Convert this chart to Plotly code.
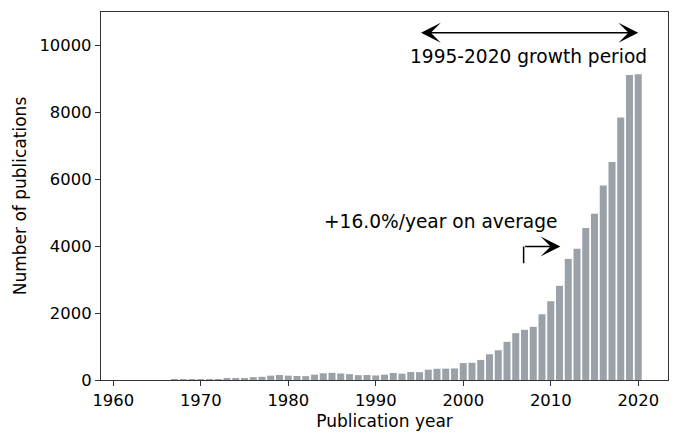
import plotly.graph_objects as go

# publication counts per year
years = list(range(1962, 2021))
counts = [
    0, 0, 0, 0, 0, 3, 15, 18,                      # 1962-1969
    25, 25, 30, 35, 50, 60, 85, 95, 130, 150,      # 1970-1979
    130, 120, 115, 160, 200, 215, 195, 175, 145, 150,  # 1980-1989
    135, 160, 210, 190, 240, 235, 310, 335, 340, 345,  # 1990-1999
    505, 515, 600, 770, 890, 1140, 1400, 1500, 1590, 1965,  # 2000-2009
    2355, 2815, 3620, 3920, 4540, 4970, 5815, 6520, 7850, 9120,  # 2010-2019
    9140,                                           # 2020
]

x_ticks = [1960, 1970, 1980, 1990, 2000, 2010, 2020]
y_ticks = [0, 2000, 4000, 6000, 8000, 10000]

BAR_COLOR = "#9aa1a8"
AXIS_COLOR = "#333333"
FONT = "DejaVu Sans"

fig = go.Figure()
fig.add_trace(go.Bar(x=years, y=counts, width=0.8,
                     marker=dict(color=BAR_COLOR, line=dict(width=0))))

# bent arrow for the average growth
fig.add_shape(type="line", x0=2006.9, x1=2006.9, y0=3490, y1=3990,
              line=dict(color="black", width=1.5))

# the page body adds an 8px offset, so margins are shifted to compensate
fig.update_layout(
    width=680, height=444,
    margin=dict(l=93, r=20, t=4, b=72),
    plot_bgcolor="white", paper_bgcolor="white",
    font=dict(family=FONT, size=14.2, color="black"),
    showlegend=False,
    annotations=[
        # double-headed arrow over the growth period
        dict(x=2020, y=10380, ax=1995, ay=10380, xref="x", yref="y",
             axref="x", ayref="y", text="", showarrow=True,
             arrowhead=3, startarrowhead=3, arrowside="end+start",
             arrowsize=2.2, startarrowsize=2.2, arrowwidth=1.5,
             arrowcolor="black"),
        dict(x=2007.5, y=9670, xref="x", yref="y", showarrow=False,
             text="1995-2020 growth period", font=dict(size=18.6)),
        dict(x=2011.1, y=3990, ax=2006.9, ay=3990, xref="x", yref="y",
             axref="x", ayref="y", text="", showarrow=True,
             arrowhead=3, arrowsize=2.2, arrowwidth=1.5,
             arrowcolor="black"),
        dict(x=1997.4, y=4730, xref="x", yref="y", showarrow=False,
             text="+16.0%/year on average", font=dict(size=18.6)),
    ],
)

fig.update_xaxes(
    range=[1958.6, 2023.4], tickvals=x_ticks, tickformat="d",
    tickfont=dict(size=16.4),
    showline=True, mirror=True, linecolor=AXIS_COLOR, linewidth=1.3,
    ticks="outside", ticklen=5, tickcolor=AXIS_COLOR, tickwidth=1.3,
    showgrid=False, zeroline=False, automargin=False,
    title=dict(text="Publication year", standoff=6),
)
fig.update_yaxes(
    range=[0, 11000], tickvals=y_ticks, tickformat="d",
    tickfont=dict(size=16.4),
    showline=True, mirror=True, linecolor=AXIS_COLOR, linewidth=1.3,
    ticks="outside", ticklen=5, tickcolor=AXIS_COLOR, tickwidth=1.3,
    showgrid=False, zeroline=False, automargin=False,
    title=dict(text="Number of publications", standoff=8),
)

fig.write_html("out.html")
